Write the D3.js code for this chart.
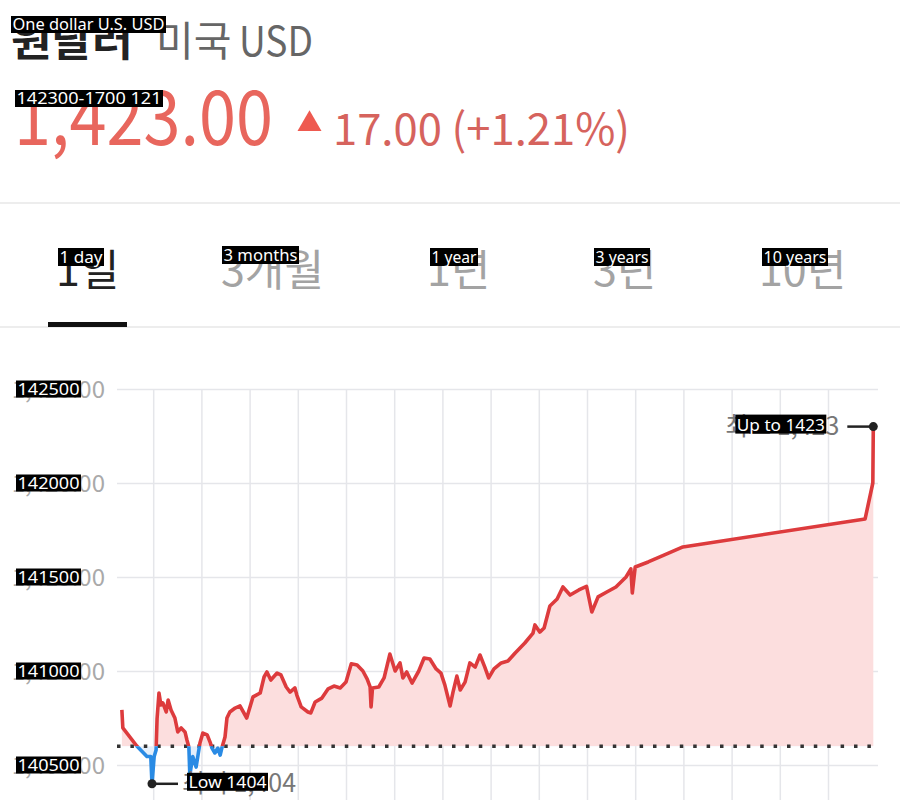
<!DOCTYPE html>
<meta charset="utf-8">
<style>
body { margin: 0; background: #fff; }
svg { display: block; }
.kr { font-family: "Noto Sans CJK KR", "Noto Sans", sans-serif; }
.tag text { font-family: "Noto Sans", "Open Sans", sans-serif; fill: #fff; }
.grid line { stroke: #e5e6ea; stroke-width: 1.5; }
.grid path { display: none; }
.yaxis path, .yaxis line { display: none; }
.yaxis text { font-family: "Noto Sans CJK KR", "Noto Sans", sans-serif; font-size: 24px; fill: #a9a9a9; }
</style>
<body>
<script src="https://cdn.jsdelivr.net/npm/d3@7"></script>
<script>

// one day of USD/KRW, time is in hours on the chart grid
var hours = [0.35,0.37,0.66,0.87,0.95,0.975,1.02,1.06,1.08,1.12,
  1.16,1.20,1.27,1.31,1.37,1.45,1.51,1.58,1.66,1.70,
  1.74,1.76,1.82,1.89,1.93,1.97,2.03,2.12,2.18,2.22,
  2.28,2.34,2.39,2.43,2.49,2.53,2.59,2.70,2.80,2.94,
  3.07,3.22,3.30,3.36,3.44,3.57,3.65,3.76,3.84,3.94,
  3.98,4.07,4.21,4.27,4.36,4.50,4.63,4.75,4.88,5.00,
  5.11,5.23,5.35,5.44,5.50,5.52,5.55,5.68,5.79,5.91,
  6.02,6.12,6.18,6.26,6.37,6.51,6.62,6.74,6.87,6.97,
  7.05,7.16,7.22,7.30,7.37,7.47,7.57,7.68,7.78,7.88,
  7.96,8.07,8.22,8.36,8.51,8.71,8.88,8.92,9.02,9.11,
  9.23,9.38,9.50,9.65,9.83,9.99,10.10,10.23,10.41,10.60,
  10.81,10.91,10.94,11.00,11.27,11.56,11.99,15.77,15.93,15.94];

var rates = [1407.93,1406.97,1406.01,1405.45,1405.45,1404.00,1405.45,1405.80,1407.45,1408.83,
  1408.19,1408.30,1407.82,1408.46,1407.93,1407.50,1406.76,1406.97,1406.76,1406.33,
  1405.96,1404.47,1405.45,1404.89,1405.53,1406.17,1406.70,1406.60,1406.22,1405.90,
  1405.64,1405.90,1405.53,1405.96,1406.49,1407.50,1407.82,1408.03,1408.14,1407.50,
  1408.62,1408.83,1409.68,1409.95,1409.52,1409.89,1409.79,1409.15,1408.88,1409.10,
  1408.72,1408.09,1407.82,1407.77,1408.35,1408.56,1409.05,1409.20,1409.10,1409.41,
  1410.38,1410.32,1410.00,1409.57,1409.15,1408.09,1409.10,1409.15,1409.63,1410.90,
  1410.00,1410.43,1409.63,1409.95,1409.36,1410.00,1410.69,1410.64,1410.11,1409.89,
  1409.26,1408.14,1408.88,1409.73,1408.99,1409.41,1410.43,1410.21,1410.85,1410.21,
  1409.63,1410.11,1410.43,1410.53,1410.96,1411.49,1412.02,1412.45,1412.07,1412.29,
  1413.46,1413.83,1414.47,1414.04,1414.31,1414.50,1413.14,1413.94,1414.20,1414.47,
  1415.00,1415.43,1414.15,1415.53,1415.80,1416.12,1416.60,1418.09,1420.00,1423.00];

var yTicks = [1405, 1410, 1415, 1420, 1425];
var hourTicks = d3.range(1, 16);
var prevClose = 1406;
var lastRate = 1423, change = 17, changePct = 1.21;

var tabs = ["1일", "3개월", "1년", "3년", "10년"];
var tabTags = ["1 day", "3 months", "1 year", "3 years", "10 years"];

// layout
var width = 900, height = 800;
var tabX = [56, 221, 427, 593, 759];
var tabTagBox = [[58, 46], [222, 77], [430, 48], [594, 56], [762, 66]];

var svg = d3.select("body").append("svg")
    .attr("width", width)
    .attr("height", height);

// black boxes with white text laid over the screenshot
function tag(x, y, w, h, txt, size) {
  var g = svg.append("g").attr("class", "tag");
  g.append("rect").attr("x", x).attr("y", y).attr("width", w).attr("height", h).attr("fill", "#000");
  g.append("text")
      .attr("x", x + 1.5)
      .attr("y", y + h - 3)
      .attr("textLength", w - 3)
      .attr("lengthAdjust", "spacingAndGlyphs")
      .style("font-size", (size || 16) + "px")
      .text(txt);
}

// header
svg.append("text").attr("class", "kr").attr("x", 11).attr("y", 56)
    .attr("textLength", 122).attr("lengthAdjust", "spacingAndGlyphs")
    .attr("fill", "#222").style("font-size", "41px").style("font-weight", "bold")
    .text("원달러");
svg.append("text").attr("class", "kr").attr("x", 156).attr("y", 56)
    .attr("fill", "#666").style("font-size", "41px")
    .text("미국");
svg.append("text").attr("class", "kr").attr("x", 239).attr("y", 56)
    .attr("textLength", 74).attr("lengthAdjust", "spacingAndGlyphs")
    .attr("fill", "#666").style("font-size", "41px")
    .text("USD");

var fmt = d3.format(",.2f");
svg.append("text").attr("class", "kr")
    .attr("x", 14).attr("y", 145)
    .attr("textLength", 259).attr("lengthAdjust", "spacingAndGlyphs")
    .attr("fill", "#e8665d")
    .style("font-size", "76px")
    .text(fmt(lastRate));

svg.append("path")
    .attr("d", d3.symbol(d3.symbolTriangle, 250)())
    .attr("transform", "translate(309.5,124)")
    .attr("fill", "#ee5a50");

svg.append("text").attr("class", "kr")
    .attr("x", 333).attr("y", 145)
    .attr("textLength", 297).attr("lengthAdjust", "spacingAndGlyphs")
    .attr("fill", "#d6635d")
    .style("font-size", "44px")
    .text(change.toFixed(2) + " (+" + changePct.toFixed(2) + "%)");

// separators and tabs
svg.append("rect").attr("x", 0).attr("y", 202).attr("width", width).attr("height", 2).attr("fill", "#ededed");
svg.append("rect").attr("x", 0).attr("y", 326).attr("width", width).attr("height", 2).attr("fill", "#ededed");
svg.append("rect").attr("x", 48).attr("y", 322).attr("width", 79).attr("height", 5).attr("fill", "#111");

svg.selectAll(".tab")
    .data(tabs)
  .enter().append("text")
    .attr("class", "tab kr")
    .attr("x", function(d, i) { return tabX[i]; })
    .attr("y", 286)
    .attr("fill", function(d, i) { return i === 0 ? "#222" : "#a3a3a3"; })
    .style("font-size", "43px")
    .text(function(d) { return d; });

// chart
var x = d3.scaleLinear().domain([0, 16]).range([105, 876.2]);
var y = d3.scaleLinear().domain([1405, 1425]).range([765, 389]);
var gridLeft = 117, gridRight = 878;

svg.append("g")
    .attr("class", "grid")
    .attr("transform", "translate(" + gridLeft + ",0)")
    .call(d3.axisLeft(y).tickValues(yTicks).tickSize(-(gridRight - gridLeft)).tickFormat(""));

svg.append("g")
    .attr("class", "grid")
    .attr("transform", "translate(0," + height + ")")
    .call(d3.axisBottom(x).tickValues(hourTicks).tickSize(-(height - y(1425))).tickFormat(""));

svg.append("g")
    .attr("class", "yaxis")
    .attr("transform", "translate(" + gridLeft + ",0)")
    .call(d3.axisLeft(y).tickValues(yTicks).tickSize(0).tickPadding(12).tickFormat(fmt))
  .selectAll("text")
    .attr("dy", "0.36em");

var data = hours.map(function(h, i) { return { h: h, v: rates[i] }; });
var yBase = y(prevClose);

var defs = svg.append("defs");
defs.append("clipPath").attr("id", "above")
  .append("rect").attr("x", 0).attr("y", 0).attr("width", width).attr("height", yBase);
defs.append("clipPath").attr("id", "below")
  .append("rect").attr("x", 0).attr("y", yBase).attr("width", width).attr("height", height - yBase);

var area = d3.area()
    .x(function(d) { return x(d.h); })
    .y0(yBase)
    .y1(function(d) { return y(d.v); });

var line = d3.line()
    .x(function(d) { return x(d.h); })
    .y(function(d) { return y(d.v); });

svg.append("path").datum(data).attr("d", area)
    .attr("fill", "#fcdede").attr("clip-path", "url(#above)");
svg.append("path").datum(data).attr("d", area)
    .attr("fill", "#e4effb").attr("clip-path", "url(#below)");

svg.append("line")
    .attr("x1", gridLeft).attr("x2", gridRight + 2)
    .attr("y1", yBase).attr("y2", yBase)
    .attr("stroke", "#333").attr("stroke-width", 3.5)
    .attr("stroke-dasharray", "3.5,9.9");

svg.append("path").datum(data).attr("d", line)
    .attr("fill", "none").attr("stroke", "#dd3b3d").attr("stroke-width", 3.6)
    .attr("stroke-linejoin", "round").attr("clip-path", "url(#above)");
svg.append("path").datum(data).attr("d", line)
    .attr("fill", "none").attr("stroke", "#2a8be4").attr("stroke-width", 3.6)
    .attr("stroke-linejoin", "round").attr("clip-path", "url(#below)");

// low and high markers
var iLow = d3.minIndex(rates), iHigh = d3.maxIndex(rates);
var lx = x(hours[iLow]), ly = y(rates[iLow]);
var hx = x(hours[iHigh]), hy = y(rates[iHigh]);

svg.append("line").attr("x1", lx).attr("x2", lx + 26).attr("y1", ly).attr("y2", ly)
    .attr("stroke", "#222").attr("stroke-width", 2.5);
svg.append("circle").attr("cx", lx).attr("cy", ly).attr("r", 4.5).attr("fill", "#222");
svg.append("text").attr("class", "kr")
    .attr("x", lx + 30).attr("y", ly + 8)
    .attr("fill", "#777").style("font-size", "25px")
    .text("최저 " + d3.format(",")(rates[iLow]));

svg.append("line").attr("x1", hx - 26).attr("x2", hx).attr("y1", hy).attr("y2", hy)
    .attr("stroke", "#222").attr("stroke-width", 2.5);
svg.append("circle").attr("cx", hx).attr("cy", hy).attr("r", 4.5).attr("fill", "#222");
svg.append("text").attr("class", "kr")
    .attr("x", hx - 34).attr("y", hy + 8)
    .attr("text-anchor", "end")
    .attr("fill", "#777").style("font-size", "25px")
    .text("최고 " + d3.format(",")(rates[iHigh]));

// overlay tags
tag(11, 16, 155, 17, "One dollar U.S. USD", 17);
tag(15, 90, 148, 17, "142300-1700  121", 17);

tabTags.forEach(function(t, i) {
  tag(tabTagBox[i][0], i === 1 ? 246 : 248, tabTagBox[i][1], 18, t, 16);
});

yTicks.forEach(function(t) {
  tag(16, y(t) - 8.5, 65, 17, t.toFixed(2).replace(".", ""), 16);
});

tag(lx + 35, ly - 11, 81, 18, "Low " + Math.round(rates[iLow]), 17);
tag(hx - 138, hy - 12, 91, 19, "Up to " + Math.round(rates[iHigh]), 17);

</script>
</body>
